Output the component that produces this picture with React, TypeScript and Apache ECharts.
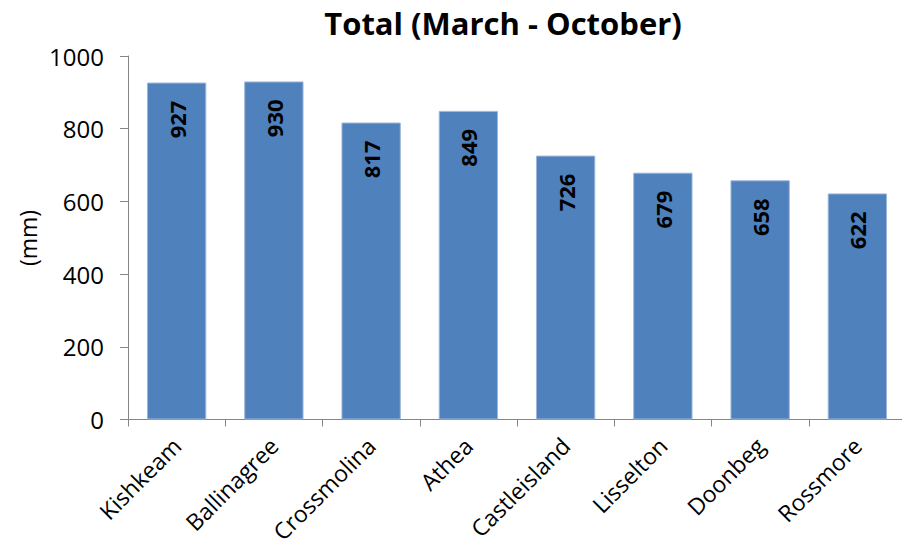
import React, { useEffect, useRef } from "react";
import * as echarts from "echarts";

const categories = ["Kishkeam", "Ballinagree", "Crossmolina", "Athea", "Castleisland", "Lisselton", "Doonbeg", "Rossmore"];
const values = [927, 930, 817, 849, 726, 679, 658, 622];
const titleText = "Total (March - October)";
const yName = "(mm)";

const FONT = "'Open Sans', 'Noto Sans', sans-serif";

export default function App() {
  const ref = useRef<HTMLDivElement>(null);
  useEffect(() => {
    if (!ref.current) return;
    const chart = echarts.init(ref.current, null, { renderer: "svg" });
    chart.setOption({
      animation: false,
      title: {
        text: titleText,
        left: 498,
        textAlign: "center",
        top: 2,
        textStyle: { fontFamily: FONT, fontSize: 31, fontWeight: "bold", color: "#000" },
      },
      grid: { left: 128, width: 778, top: 56, height: 364, containLabel: false },
      xAxis: {
        type: "category",
        data: categories,
        axisLine: { lineStyle: { color: "#868686", width: 1 } },
        axisTick: { show: true, alignWithLabel: false, length: 7, lineStyle: { color: "#868686" } },
        axisLabel: {
          rotate: 45,
          interval: 0,
          margin: 22,
          fontFamily: FONT,
          fontSize: 23,
          color: "#000",
        },
      },
      yAxis: {
        type: "value",
        min: 0,
        max: 1000,
        interval: 200,
        axisLine: { show: true, lineStyle: { color: "#868686", width: 1 } },
        axisTick: { show: true, length: 8, lineStyle: { color: "#868686" } },
        splitLine: { show: false },
        axisLabel: {
          margin: 24,
          fontFamily: FONT,
          fontSize: 24,
          color: "#000",
          formatter: (v: number) => String(v),
        },
      },
      graphic: [
        {
          type: "text",
          x: 28,
          y: 238,
          rotation: Math.PI / 2,
          style: {
            text: yName,
            fontFamily: FONT,
            fontSize: 23,
            fill: "#000",
            align: "center",
            verticalAlign: "middle",
          },
        },
      ],
      series: [
        {
          type: "bar",
          data: values,
          barWidth: "61%",
          itemStyle: { color: "#4f81bd", borderColor: "#9db6d9", borderWidth: 1 },
          label: {
            show: true,
            position: "insideTop",
            rotate: 90,
            align: "right",
            verticalAlign: "middle",
            distance: 18,
            fontFamily: FONT,
            fontSize: 22,
            fontWeight: "bold",
            color: "#000",
          },
        },
      ],
    });
    return () => chart.dispose();
  }, []);
  return (
    <div style={{ width: 902, height: 546, position: "absolute", left: 0, top: 0, overflow: "hidden" }}>
      <div ref={ref} style={{ width: 912, height: 546 }} />
    </div>
  );
}
